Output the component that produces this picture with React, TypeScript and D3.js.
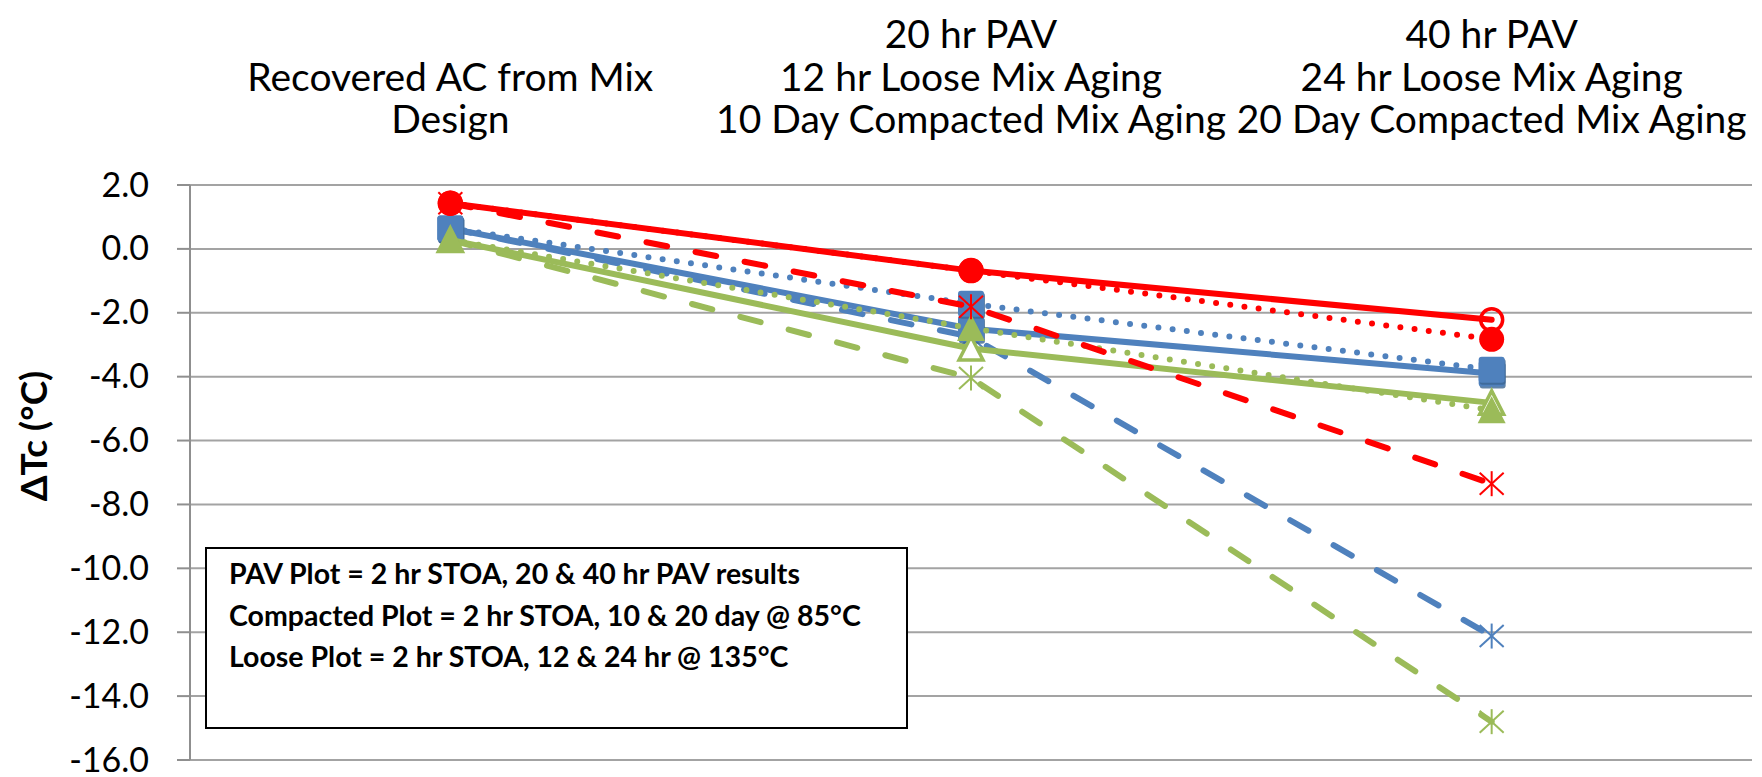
import React from 'react';
import * as d3 from 'd3';

// ---------- data ----------
const categories = ['Recovered AC from Mix Design', '20 hr PAV / 12 hr Loose / 10 Day Compacted', '40 hr PAV / 24 hr Loose / 20 Day Compacted'];
const categoryLabelLines = [
  ['Recovered AC from Mix', 'Design'],
  ['20 hr PAV', '12 hr Loose Mix Aging', '10 Day Compacted Mix Aging'],
  ['40 hr PAV', '24 hr Loose Mix Aging', '20 Day Compacted Mix Aging'],
];
const yTicks = [2, 0, -2, -4, -6, -8, -10, -12, -14, -16];

const redSolid = [1.43, -0.68, -2.22];
const redDotted = [1.43, -0.68, -2.83];
const redDashed = [1.43, -1.81, -7.35];
const blueSolid = [0.64, -2.5, -3.9];
const blueDotted = [0.64, -1.72, -3.78];
const blueDashed = [0.64, -2.75, -12.12];
const greenSolid = [0.28, -3.12, -4.82];
const greenDotted = [0.28, -2.48, -5.05];
const greenDashed = [0.28, -4.04, -14.8];

const legendLines = [
  'PAV Plot = 2 hr STOA, 20 & 40 hr PAV results',
  'Compacted Plot = 2 hr STOA, 10 & 20 day @ 85°C',
  'Loose Plot = 2 hr STOA, 12 & 24 hr @ 135°C',
];

const RED = '#FF0000';
const BLUE = '#4F81BD';
const GREEN = '#9BBB59';

type Style = 'solid' | 'dotted' | 'dashed';
type Marker = 'circle' | 'openCircle' | 'square' | 'triangle' | 'openTriangle' | 'star';
interface Series { values: number[]; color: string; style: Style; marker: Marker; }

// drawing order (back to front)
const seriesList: Series[] = [
  { values: greenDashed, color: GREEN, style: 'dashed', marker: 'star' },
  { values: blueDashed, color: BLUE, style: 'dashed', marker: 'star' },
  { values: blueSolid, color: BLUE, style: 'solid', marker: 'square' },
  { values: blueDotted, color: BLUE, style: 'dotted', marker: 'square' },
  { values: greenSolid, color: GREEN, style: 'solid', marker: 'openTriangle' },
  { values: greenDotted, color: GREEN, style: 'dotted', marker: 'triangle' },
  { values: redDashed, color: RED, style: 'dashed', marker: 'star' },
  { values: redSolid, color: RED, style: 'solid', marker: 'openCircle' },
  { values: redDotted, color: RED, style: 'dotted', marker: 'circle' },
];

const FONT = "Lato, 'Open Sans', 'DejaVu Sans', sans-serif";

function MarkerShape({ kind, color, cx, cy }: { kind: Marker; color: string; cx: number; cy: number }) {
  const t = `translate(${cx},${cy})`;
  switch (kind) {
    case 'circle':
      return <circle cx={cx} cy={cy} r={12.5} fill={color} />;
    case 'openCircle':
      return <circle cx={cx} cy={cy} r={11} fill="none" stroke={color} strokeWidth={3.5} />;
    case 'square':
      return (
        <g transform={t}>
          <rect x={-12} y={-11} width={26} height={26} rx={3} fill="#3b6592" opacity={0.8} />
          <rect x={-13} y={-13} width={26} height={26} rx={3} fill={color} />
        </g>
      );
    case 'triangle':
      return <path transform={t} d="M0,-14L14,13L-14,13Z" fill={color} />;
    case 'openTriangle':
      return <path transform={t} d="M0,-12L12,11.5L-12,11.5Z" fill="#fff" stroke={color} strokeWidth={3.5} strokeLinejoin="miter" />;
    case 'star':
      return (
        <g transform={t} stroke={color} strokeWidth={2}>
          <line x1={0} y1={-12.5} x2={0} y2={12.5} />
          <line x1={-12} y1={-11} x2={12} y2={11} />
          <line x1={-12} y1={11} x2={12} y2={-11} />
        </g>
      );
  }
  return null;
}

export default function App() {
  const W = 1762, H = 777;
  const x = d3.scalePoint<number>().domain(categories.map((_, i) => i)).range([190, 1752]).padding(0.5);
  const y = d3.scaleLinear().domain([-16, 2]).range([760, 185]);
  const line = d3.line<number>().x((_, i) => x(i) as number).y((d) => y(d));

  const dashFor = (s: Style) => (s === 'dotted' ? '0 14.3' : s === 'dashed' ? '21 29' : undefined);

  const catFs = 39;
  const lineGap = 42.5;
  const lastBaseline = 133;

  return (
    <svg width={W} height={H} style={{ position: 'absolute', left: 0, top: 0, background: '#fff' }} fontFamily={FONT}>
      <rect width={W} height={H} fill="#fff" />
      {/* gridlines */}
      {yTicks.map((t) => (
        <line key={t} x1={190} x2={1752} y1={y(t)} y2={y(t)} stroke="#a3a3a3" strokeWidth={2} />
      ))}
      {/* y axis */}
      <line x1={190} x2={190} y1={y(2)} y2={y(-16)} stroke="#8f8f8f" strokeWidth={2} />
      {yTicks.map((t) => (
        <line key={'tk' + t} x1={177} x2={190} y1={y(t)} y2={y(t)} stroke="#8f8f8f" strokeWidth={2} />
      ))}
      {yTicks.map((t) => (
        <text key={'tl' + t} x={149} y={y(t) + 11.5} textAnchor="end" fontSize={34} fill="#000">
          {t.toFixed(1)}
        </text>
      ))}
      {/* y title */}
      <text transform={`translate(47,436) rotate(-90)`} textAnchor="middle" fontSize={37} fontWeight="bold" fill="#000">
        ΔTc (°C)
      </text>
      {/* category labels */}
      {categoryLabelLines.map((lines, i) => (
        <g key={'c' + i}>
          {lines.map((ln, j) => (
            <text
              key={j}
              x={x(i) as number}
              y={lastBaseline - (lines.length - 1 - j) * lineGap}
              textAnchor="middle"
              fontSize={catFs}
              fill="#000"
            >
              {ln}
            </text>
          ))}
        </g>
      ))}
      {/* note box */}
      <rect x={206} y={548} width={701} height={180} fill="#fff" stroke="#000" strokeWidth={2} />
      {legendLines.map((ln, i) => (
        <text key={'lg' + i} x={229} y={584 + i * 41.5} fontSize={28.5} fontWeight="bold" fill="#000">
          {ln}
        </text>
      ))}
      {/* series */}
      {seriesList.map((s, si) => (
        <g key={'s' + si}>
          <path
            d={line(s.values) || ''}
            fill="none"
            stroke={s.color}
            strokeWidth={6}
            strokeLinecap="round"
            strokeLinejoin="round"
            strokeDasharray={dashFor(s.style)}
          />
          {s.values.map((v, i) => (
            <MarkerShape key={i} kind={s.marker} color={s.color} cx={x(i) as number} cy={y(v)} />
          ))}
        </g>
      ))}
    </svg>
  );
}
